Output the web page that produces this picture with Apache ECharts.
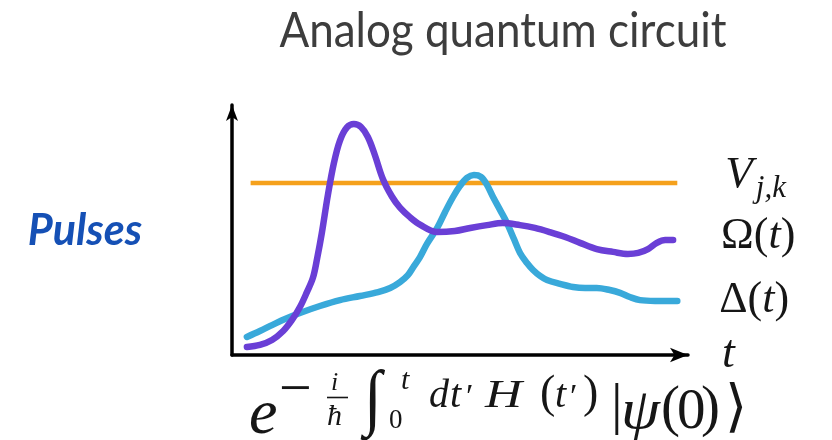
<!DOCTYPE html>
<html>
<head>
<meta charset="utf-8">
<script src="https://cdn.jsdelivr.net/npm/echarts@6/dist/echarts.min.js"></script>
<style>
  html, body { margin: 0; padding: 0; background: #ffffff; }
  #chart { width: 832px; height: 440px; }
</style>
</head>
<body>
<div id="chart"></div>
<script>
// Pulse schedule on an arbitrary time / amplitude scale
const vTime = [4.0, 95.7];
const vLevel = [66.7, 66.7];

const omegaTime  = [3.2, 6.0, 8.6, 11.0, 12.9, 14.6, 16.1, 17.4, 18.3, 19.3, 20.6, 21.9, 23.2, 24.7, 26.2, 27.7, 29.2, 30.7, 32.4, 34.4, 36.1, 38.3, 40.4, 44.1, 47.9, 51.2, 54.8, 58.2, 61.9, 65.1, 68.3, 71.6, 74.8, 78.4, 81.9, 85.1, 87.3, 89.4, 91.3, 93.1, 94.8];
const omegaValue = [3.1, 3.9, 5.8, 9.3, 13.6, 18.6, 24.4, 30.0, 37.5, 47.3, 62.0, 74.5, 83.2, 88.3, 89.6, 88.5, 84.6, 77.6, 68.4, 61.4, 57.2, 53.4, 50.6, 47.7, 48.1, 49.3, 50.4, 51.2, 50.4, 49.3, 47.7, 45.8, 43.5, 41.1, 40.0, 39.2, 39.6, 41.1, 43.5, 44.6, 44.6];

const deltaTime  = [3.2, 6.0, 8.6, 11.4, 14.6, 18.9, 23.2, 27.5, 31.4, 34.0, 36.1, 37.8, 39.1, 40.4, 41.9, 44.1, 45.8, 47.5, 49.0, 50.5, 52.0, 53.5, 54.8, 56.1, 57.6, 59.1, 60.6, 61.9, 63.4, 64.7, 66.2, 67.7, 70.5, 73.3, 75.9, 78.4, 81.2, 83.4, 85.5, 87.7, 90.9, 95.7];
const deltaValue = [7.0, 9.3, 11.6, 14.0, 16.3, 19.0, 21.3, 22.9, 24.4, 26.0, 28.3, 31.0, 34.5, 38.0, 43.1, 49.3, 55.5, 61.3, 65.6, 68.7, 69.8, 69.1, 66.0, 61.3, 56.3, 51.2, 45.0, 39.6, 35.7, 33.0, 30.7, 29.1, 27.6, 26.4, 26.0, 26.0, 25.2, 24.1, 22.5, 21.3, 21.0, 21.0];

const seriesNames = ['V', 'Omega', 'Delta'];
const titleText = 'Analog quantum circuit';
const sideText = 'Pulses';

const pairs = (xs, ys) => xs.map((x, i) => [x, ys[i]]);

const SERIF = "'Liberation Serif', 'DejaVu Serif', serif";
const INK = '#161616';

const mathRich = {
  u: { fontFamily: SERIF, fontSize: 44, color: INK },
  i: { fontFamily: SERIF, fontSize: 44, fontStyle: 'italic', color: INK },
  vi: { fontFamily: SERIF, fontSize: 45, fontStyle: 'italic', color: INK, lineHeight: 42, verticalAlign: 'top' },
  sub: { fontFamily: SERIF, fontSize: 31, fontStyle: 'italic', color: INK, lineHeight: 28, verticalAlign: 'top', padding: [20, 0, 0, 3] }
};

// Formula pieces: [text, left x, baseline y, font size, italic, scaleX, scaleY]
const formulaPieces = [
  ['e', 249, 438, 64, true, 1, 1],
  ['\u2212', 279, 411, 58, false, 1, 1],
  ['i', 331, 392, 26, true, 1, 1],
  ['\u0127', 327, 427, 30, true, 1, 1],
  ['\u222B', 364, 420, 54, false, 1.2, 1.35],
  ['t', 401, 391, 30, true, 1, 1],
  ['0', 389, 430, 27, false, 1, 1],
  ['d', 429, 410, 40, true, 1, 1],
  ['t', 450, 410, 40, true, 1, 1],
  ['\u2032', 466, 410, 34, false, 1, 1],
  ['H', 485, 410, 41, true, 1.25, 1],
  ['(', 540, 410, 46, false, 1, 1],
  ['t', 555, 410, 40, true, 1, 1],
  ['\u2032', 570, 410, 34, false, 1, 1],
  [')', 583, 410, 46, false, 1, 1],
  ['|', 611, 427, 58, false, 1, 1],
  ['\u03C8', 621, 432, 57, true, 1.1, 1],
  ['(', 661, 429, 57, false, 1, 1],
  ['0', 677, 432, 57, false, 1, 1],
  [')', 701, 429, 57, false, 1, 1],
  ['\u27E9', 725, 429, 57, false, 1, 1]
];

const graphics = [
  {
    type: 'text', x: 503, y: 50 - 0.387 * 44,
    scaleY: 1.12, originX: 0, originY: 0.387 * 44,
    style: {
      text: titleText, fontFamily: 'Lato, "Open Sans", sans-serif', fontSize: 44,
      fill: '#3d3d3d', align: 'center', verticalAlign: 'middle'
    }
  },
  {
    type: 'text', x: 85, y: 248 - 0.387 * 43,
    style: {
      text: sideText, fontFamily: 'Lato, "Open Sans", sans-serif', fontSize: 43,
      fontWeight: 'bold', fontStyle: 'italic', fill: '#1550b5',
      align: 'center', verticalAlign: 'middle'
    }
  },
  // fraction bar inside the exponent
  {
    type: 'line',
    shape: { x1: 327, y1: 397.5, x2: 348, y2: 397.5 },
    style: { stroke: INK, lineWidth: 1.6 }
  }
];

formulaPieces.forEach(([txt, x, base, size, italic, sx, sy]) => {
  graphics.push({
    type: 'text', x: x, y: base - 0.3375 * size,
    scaleX: sx, scaleY: sy, originX: 0, originY: 0,
    style: {
      text: txt, fontFamily: SERIF, fontSize: size,
      fontStyle: italic ? 'italic' : 'normal', fill: INK,
      align: 'left', verticalAlign: 'middle'
    }
  });
});

const chart = echarts.init(document.getElementById('chart'), null, { renderer: 'canvas' });

chart.setOption({
  backgroundColor: '#ffffff',
  animation: false,
  grid: { left: 232, top: 105, width: 456, height: 250, containLabel: false },
  xAxis: {
    type: 'value', min: 0, max: 98,
    name: 't', nameLocation: 'end', nameGap: 34,
    nameTextStyle: { fontFamily: SERIF, fontStyle: 'italic', fontSize: 46, color: INK, align: 'left', verticalAlign: 'middle', padding: [0, 0, 4, 0] },
    axisLine: { show: true, symbol: ['none', 'arrow'], symbolSize: [11, 18], lineStyle: { color: '#000', width: 3.5 } },
    axisTick: { show: false }, axisLabel: { show: false }, splitLine: { show: false }
  },
  yAxis: {
    type: 'value', min: 0, max: 97,
    axisLine: { show: true, onZero: false, symbol: ['none', 'arrow'], symbolSize: [9, 16], lineStyle: { color: '#000', width: 3.5 } },
    axisTick: { show: false }, axisLabel: { show: false }, splitLine: { show: false }
  },
  series: [
    {
      name: seriesNames[0], type: 'line', data: pairs(vTime, vLevel),
      showSymbol: false, silent: true, z: 2,
      lineStyle: { color: '#f5a11c', width: 4.5, cap: 'butt' },
      endLabel: {
        show: true, distance: 48, offset: [0, -9],
        formatter: '{vi|V}{sub|j,k}', rich: mathRich
      }
    },
    {
      name: seriesNames[2], type: 'line', data: pairs(deltaTime, deltaValue),
      showSymbol: false, silent: true, smooth: 0.35, z: 3,
      lineStyle: { color: '#39a9da', width: 6.5, cap: 'round', join: 'round' },
      endLabel: {
        show: true, distance: 42, offset: [0, 0],
        formatter: '{u|\u0394(}{i|t}{u|)}', rich: mathRich
      }
    },
    {
      name: seriesNames[1], type: 'line', data: pairs(omegaTime, omegaValue),
      showSymbol: false, silent: true, smooth: 0.35, z: 4,
      lineStyle: { color: '#6a3fd6', width: 6.5, cap: 'round', join: 'round' },
      endLabel: {
        show: true, distance: 48, offset: [0, -4],
        formatter: '{u|\u03A9(}{i|t}{u|)}', rich: mathRich
      }
    }
  ],
  graphic: graphics
});
</script>
</body>
</html>
